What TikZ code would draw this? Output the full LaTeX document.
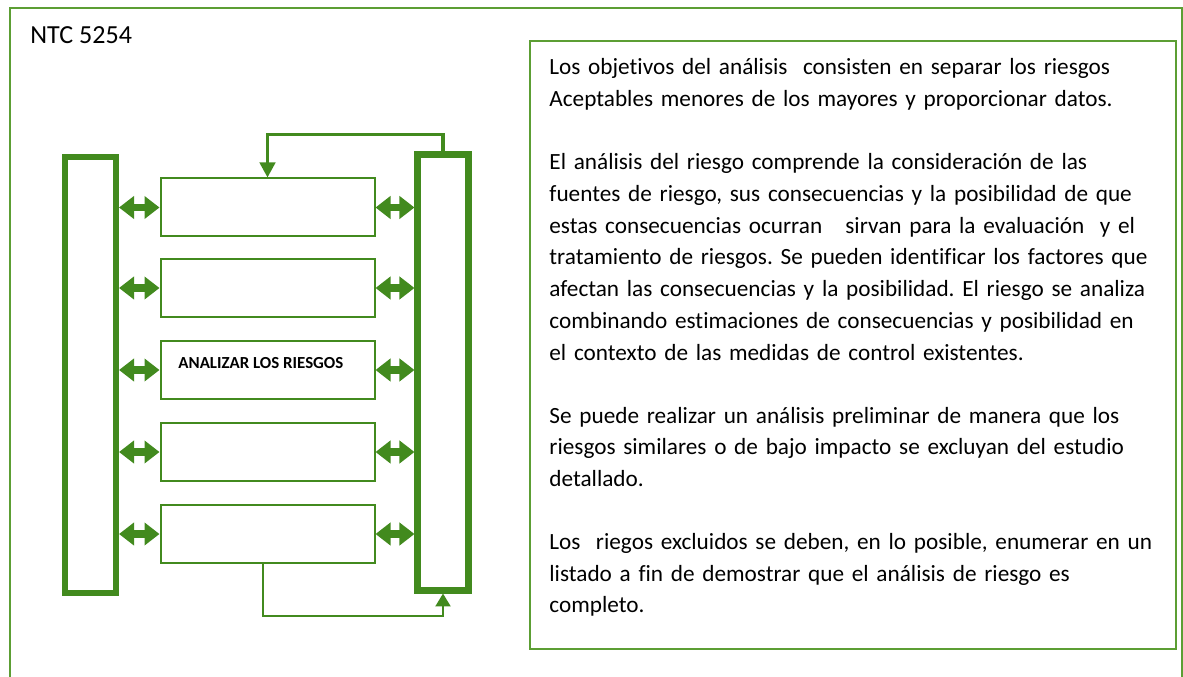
\documentclass[tikz,border=0pt]{standalone}
\usepackage{fontspec}
\setmainfont[Ligatures=NoCommon]{Carlito}
\usetikzlibrary{arrows.meta}

\newcommand{\upx}{0.48pt}
\definecolor{framegreen}{RGB}{92,158,52}
\definecolor{flowgreen}{RGB}{66,138,30}
\frenchspacing

\begin{document}
\begin{tikzpicture}[x=\upx, y=-\upx, line cap=butt,
		bar/.style={draw=flowgreen, line width=2.9pt, inner sep=0pt,
			minimum width=51*\upx, minimum height=436*\upx},
		stepbox/.style={draw=flowgreen, line width=0.96pt, inner sep=0pt,
			minimum width=214*\upx, minimum height=58*\upx},
		frame/.style={draw=framegreen, line width=0.96pt},
		dbl/.style={draw=flowgreen, line width=3.4pt,
			{Triangle[length=7.2pt,width=10.6pt]}-{Triangle[length=7.2pt,width=10.6pt]}},
		loop/.style={draw=flowgreen, line width=1.4pt},
		txt/.style={inner sep=0pt, anchor=base west, align=left, text width=620*\upx,
			font={\fontsize{11.15pt}{15.26pt}\selectfont}}]

			% constants
			\pgfmathsetmacro{\boxx}{267.5};
			\pgfmathsetmacro{\textx}{549};

			% page
			\useasboundingbox (0,0) rectangle (1183,677);
			\draw[frame] (10,677) -- (10,8) -- (1182,8) -- (1182,677);
			\node[anchor=base west, inner sep=0pt,
				font={\fontsize{12.5pt}{14pt}\selectfont}] (ntc) at (30,44) {NTC 5254};

			% side bars
			\node[bar] (lbar) at (90.5,375) {};
			\node[bar] (rbar) at (443,372.5) {};

			% steps
			\foreach \y [count=\i] in {207.5,288,370,452,534}
			{
				\node[stepbox] (b\i) at (\boxx,\y) {};
				\draw[dbl] (lbar.east |- b\i) -- (b\i.west);
				\draw[dbl] (b\i.east) -- (rbar.west |- b\i);
			}
			\node[anchor=west, inner sep=0pt,
				font={\fontsize{8.1pt}{10pt}\selectfont\bfseries}] (lab3) at (178,363)
				{ANALIZAR LOS RIESGOS};

			% feedback
			\draw[loop, line width=1.5pt, -{Triangle[length=7.2pt,width=7.4pt]}]
				(rbar.north) -- ++(0,-17) -| (b1.north);
			\draw[loop, line width=1pt, -{Triangle[length=6.2pt,width=7.2pt]}]
				([xshift=-4.5*\upx]b5.south) -- ++(0,52) -| (rbar.south);

			% text
			\node[frame, minimum width=646*\upx, minimum height=608*\upx,
				inner sep=0pt] (tbox) at (853,345) {};
			\node[txt] (p1) at (\textx,75)
				{Los objetivos del análisis\ \ consisten en separar los riesgos\\
				Aceptables menores de los mayores y proporcionar datos.};
			\node[txt] (p2) at (\textx,169.5)
				{El análisis del riesgo comprende la consideración de las\\
				fuentes de riesgo, sus consecuencias y la posibilidad de que\\
				estas consecuencias ocurran\ \ \ sirvan para la evaluación\ \ y el\\
				tratamiento de riesgos. Se pueden identificar los factores que\\
				afectan las consecuencias y la posibilidad. El riesgo se analiza\\
				combinando estimaciones de consecuencias y posibilidad en\\
				el contexto de las medidas de control existentes.};
			\node[txt] (p3) at (\textx,423)
				{Se puede realizar un análisis preliminar de manera que los\\
				riesgos similares o de bajo impacto se excluyan del estudio\\
				detallado.};
			\node[txt] (p4) at (\textx,549.3)
				{Los\ \ riegos excluidos se deben, en lo posible, enumerar en un\\
				listado a fin de demostrar que el análisis de riesgo es\\
				completo.};

\end{tikzpicture}
\end{document}
